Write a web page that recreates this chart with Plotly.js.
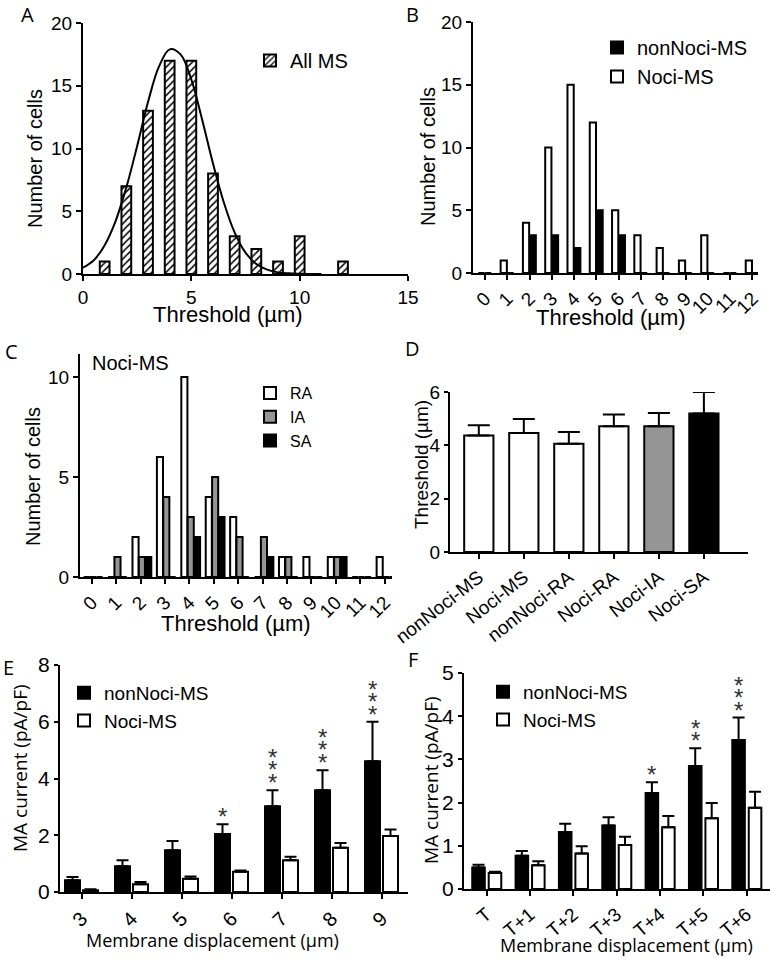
<!DOCTYPE html>
<html><head><meta charset="utf-8">
<script src="https://cdn.plot.ly/plotly-3.0.1.min.js"></script>
<style>html,body{margin:0;padding:0;background:#fff}#chart{width:771px;height:962px}</style>
</head><body><div id="chart"></div>
<script>
// ---------- Panel A: all MS neurons ----------
const thresholdBinsA = [1, 2, 3, 4, 5, 6, 7, 8, 9, 10, 12];
const allMsCounts = [1, 7, 13, 17, 17, 8, 3, 2, 1, 3, 1];
const fitCurveX = [0, 0.5, 1, 1.5, 2, 2.5, 3, 3.5, 4, 4.5, 5, 5.5, 6, 6.5, 7, 7.5, 8, 8.5, 9, 9.5, 10, 11];
const fitCurveY = [0.5, 1.1, 2.3, 4.2, 6.9, 10.2, 13.7, 16.5, 17.9, 17.5, 15.5, 12.3, 8.8, 5.7, 3.3, 1.7, 0.8, 0.35, 0.13, 0.05, 0.02, 0];
const tickValsA = [0, 5, 10, 15];
const tickValsCountA = [0, 5, 10, 15, 20];

// ---------- Panel B: nonNoci vs Noci ----------
const thresholdBinsB = [0, 1, 2, 3, 4, 5, 6, 7, 8, 9, 10, 11, 12];
const nonNociCountsB = [0, 0, 3, 3, 2, 5, 3, 0, 0, 0, 0, 0, 0];
const nociCountsB = [0, 1, 4, 10, 15, 12, 5, 3, 2, 1, 3, 0, 1];

// ---------- Panel C: Noci-MS by adaptation ----------
const thresholdBinsC = [0, 1, 2, 3, 4, 5, 6, 7, 8, 9, 10, 11, 12];
const raCounts = [0, 0, 2, 6, 10, 4, 3, 0, 1, 1, 1, 0, 1];
const iaCounts = [0, 1, 1, 4, 3, 5, 2, 2, 1, 0, 1, 0, 0];
const saCounts = [0, 0, 1, 0, 2, 3, 0, 1, 0, 0, 1, 0, 0];

// ---------- Panel D: mean threshold ----------
const groupsD = ['nonNoci-MS', 'Noci-MS', 'nonNoci-RA', 'Noci-RA', 'Noci-IA', 'Noci-SA'];
const thresholdMeansD = [4.37, 4.46, 4.06, 4.72, 4.72, 5.19];
const thresholdSemD = [0.38, 0.53, 0.44, 0.44, 0.49, 0.81];

// ---------- Panel E: MA current vs displacement ----------
const displacementE = ['3', '4', '5', '6', '7', '8', '9'];
const nonNociCurrentE = [0.41, 0.91, 1.47, 2.04, 3.02, 3.59, 4.61];
const nonNociSemE = [0.12, 0.21, 0.33, 0.35, 0.57, 0.70, 1.39];
const nociCurrentE = [0.06, 0.27, 0.47, 0.71, 1.12, 1.56, 1.97];
const nociSemE = [0.04, 0.08, 0.08, 0.05, 0.12, 0.17, 0.23];
const starsE = [0, 0, 0, 1, 3, 3, 3];

// ---------- Panel F: MA current vs threshold-relative displacement ----------
const displacementF = ['T', 'T+1', 'T+2', 'T+3', 'T+4', 'T+5', 'T+6'];
const nonNociCurrentF = [0.50, 0.77, 1.32, 1.47, 2.22, 2.85, 3.45];
const nonNociSemF = [0.06, 0.11, 0.19, 0.19, 0.25, 0.41, 0.52];
const nociCurrentF = [0.37, 0.55, 0.82, 1.02, 1.43, 1.64, 1.88];
const nociSemF = [0.03, 0.09, 0.17, 0.19, 0.26, 0.35, 0.37];
const starsF = [0, 0, 0, 0, 1, 2, 3];

// ---------- styling ----------
const W = 771, H = 962;
const px = v => v / W;
const py = v => 1 - v / H;
const ARIAL = 'Liberation Sans, Arial, sans-serif';
const OPEN = 'Open Sans, sans-serif';
const GRAY = '#959595';
const outline = {color: '#000', width: 2};

function axis(extra) {
  return Object.assign({
    showline: true, linecolor: '#000', linewidth: 2,
    ticks: 'outside', ticklen: 5, tickwidth: 2, tickcolor: '#000',
    showgrid: false, zeroline: false, fixedrange: true,
    tickfont: {family: ARIAL, size: 19, color: '#000'}
  }, extra);
}
function errUp(arr, w) {
  return {type: 'data', symmetric: false, array: arr, arrayminus: [], color: '#000', thickness: 2, width: w, visible: true};
}

const traces = [
  // A
  {type: 'bar', x: thresholdBinsA, y: allMsCounts, width: 0.45, xaxis: 'x', yaxis: 'y', name: 'All MS', legend: 'legend',
   marker: {color: '#fff', line: outline, pattern: {shape: '/', fgcolor: '#000', bgcolor: '#fff', size: 5, solidity: 0.3}}},
  {type: 'scatter', mode: 'lines', x: fitCurveX, y: fitCurveY, xaxis: 'x', yaxis: 'y', showlegend: false,
   line: {color: '#000', width: 2, shape: 'spline'}, hoverinfo: 'skip'},
  // B
  {type: 'bar', x: thresholdBinsB, y: nonNociCountsB, width: 0.28, offset: 0.0, xaxis: 'x2', yaxis: 'y2', name: 'nonNoci-MS', legend: 'legend2',
   marker: {color: '#000', line: outline}},
  {type: 'bar', x: thresholdBinsB, y: nociCountsB, width: 0.28, offset: -0.3, xaxis: 'x2', yaxis: 'y2', name: 'Noci-MS', legend: 'legend2',
   marker: {color: '#fff', line: outline}},
  // C
  {type: 'bar', x: thresholdBinsC, y: raCounts, width: 0.25, offset: -0.33, xaxis: 'x3', yaxis: 'y3', name: 'RA', legend: 'legend3',
   marker: {color: '#fff', line: outline}},
  {type: 'bar', x: thresholdBinsC, y: iaCounts, width: 0.25, offset: -0.07, xaxis: 'x3', yaxis: 'y3', name: 'IA', legend: 'legend3',
   marker: {color: GRAY, line: outline}},
  {type: 'bar', x: thresholdBinsC, y: saCounts, width: 0.25, offset: 0.19, xaxis: 'x3', yaxis: 'y3', name: 'SA', legend: 'legend3',
   marker: {color: '#000', line: outline}},
  // D
  {type: 'bar', x: groupsD, y: thresholdMeansD, width: 0.65, xaxis: 'x4', yaxis: 'y4', showlegend: false,
   marker: {color: ['#fff', '#fff', '#fff', '#fff', GRAY, '#000'], line: outline}, error_y: errUp(thresholdSemD, 11)},
  // E
  {type: 'bar', x: displacementE, y: nonNociCurrentE, width: 0.3, offset: -0.33, xaxis: 'x5', yaxis: 'y5', name: 'nonNoci-MS', legend: 'legend4',
   marker: {color: '#000', line: outline}, error_y: errUp(nonNociSemE, 6)},
  {type: 'bar', x: displacementE, y: nociCurrentE, width: 0.3, offset: 0.03, xaxis: 'x5', yaxis: 'y5', name: 'Noci-MS', legend: 'legend4',
   marker: {color: '#fff', line: outline}, error_y: errUp(nociSemE, 6)},
  // F
  {type: 'bar', x: displacementF, y: nonNociCurrentF, width: 0.29, offset: -0.33, xaxis: 'x6', yaxis: 'y6', name: 'nonNoci-MS', legend: 'legend5',
   marker: {color: '#000', line: outline}, error_y: errUp(nonNociSemF, 6)},
  {type: 'bar', x: displacementF, y: nociCurrentF, width: 0.29, offset: 0.05, xaxis: 'x6', yaxis: 'y6', name: 'Noci-MS', legend: 'legend5',
   marker: {color: '#fff', line: outline}, error_y: errUp(nociSemF, 6)}
];

function legendAt(x, y, size) {
  return {x: px(x), y: py(y), xanchor: 'left', yanchor: 'top', bgcolor: 'rgba(0,0,0,0)',
          font: {family: ARIAL, size: size, color: '#000'}, itemwidth: 30, tracegroupgap: 0, itemclick: false, itemdoubleclick: false};
}

const annotations = [];
function label(text, x, y, size, family, angle) {
  annotations.push({text: text, xref: 'paper', yref: 'paper', x: px(x), y: py(y), xanchor: 'center', yanchor: 'middle',
    showarrow: false, textangle: angle || 0, font: {family: family, size: size, color: '#000'}});
}
// panel letters
label('A', 27, 14, 20, OPEN); label('B', 412, 14, 20, OPEN); label('C', 11, 351, 20, OPEN);
label('D', 412, 348, 20, OPEN); label('E', 8, 667, 20, OPEN); label('F', 413, 659, 20, OPEN);
// axis titles
label('Number of cells', 35, 159, 20, ARIAL, -90);
label('Threshold (µm)', 228, 315, 22, ARIAL);
label('Number of cells', 428, 157, 20, ARIAL, -90);
label('Threshold (µm)', 611, 317, 22, ARIAL);
label('Number of cells', 33, 477, 20, ARIAL, -90);
label('Threshold (µm)', 236, 623, 22, ARIAL);
label('Threshold (µm)', 421, 464, 19, ARIAL, -90);
label('MA current (pA/pF)', 20, 768, 19, OPEN, -90);
label('Membrane displacement (µm)', 212, 940, 18, OPEN);
label('MA current (pA/pF)', 431, 780, 19, OPEN, -90);
label('Membrane displacement (µm)', 626, 945, 18, OPEN);
label('Noci-MS', 130, 363, 20, ARIAL);

// significance stars above nonNoci bars: one stacked text per bar (x given as category index)
function stars(vals, sems, counts, xr, yr, xshift) {
  counts.forEach((n, i) => {
    if (!n) return;
    const star = "<span style='font-size:24px'>*</span>";
    annotations.push({text: Array(n).fill(star).join('<br>'), x: i, y: vals[i] + sems[i], xref: xr, yref: yr,
      xanchor: 'center', yanchor: 'bottom', xshift: xshift, yshift: -8, showarrow: false,
      font: {family: ARIAL, size: 9.6, color: '#333'}});
  });
}
stars(nonNociCurrentE, nonNociSemE, starsE, 'x5', 'y5', -9);
stars(nonNociCurrentF, nonNociSemF, starsF, 'x6', 'y6', -8);

const layout = {
  width: W, height: H, margin: {l: 0, r: 0, t: 0, b: 0},
  paper_bgcolor: '#fff', plot_bgcolor: 'rgba(0,0,0,0)',
  barmode: 'overlay', showlegend: true, hovermode: false,
  font: {family: ARIAL, color: '#000'},
  xaxis: axis({domain: [px(83), px(408)], anchor: 'y', range: [0, 15], tickvals: tickValsA}),
  yaxis: axis({domain: [py(274), py(23)], anchor: 'x', range: [0, 20], tickvals: tickValsCountA}),
  xaxis2: axis({domain: [px(473), px(758)], anchor: 'y2', range: [-0.54, 12.25], tickvals: thresholdBinsB, tickangle: -45}),
  yaxis2: axis({domain: [py(273), py(22)], anchor: 'x2', range: [0, 20], tickvals: tickValsCountA}),
  xaxis3: axis({domain: [px(80), px(392)], anchor: 'y3', range: [-0.48, 12.3], tickvals: thresholdBinsC, tickangle: -45}),
  yaxis3: axis({domain: [py(577), py(354)], anchor: 'x3', range: [0, 11.15], tickvals: [0, 5, 10]}),
  xaxis4: axis({domain: [px(450), px(748)], anchor: 'y4', type: 'category', range: [-0.64, 5.98], tickangle: -38}),
  yaxis4: axis({domain: [py(552), py(392)], anchor: 'x4', range: [0, 6], tickvals: [0, 2, 4, 6], ticklen: 4}),
  xaxis5: axis({domain: [px(60), px(408)], anchor: 'y5', type: 'category', range: [-0.43, 6.53], tickangle: -45,
                tickfont: {family: ARIAL, size: 20, color: '#000'}}),
  yaxis5: axis({domain: [py(892), py(665)], anchor: 'x5', range: [0, 8], tickvals: [0, 2, 4, 6, 8], ticklen: 4,
                tickfont: {family: ARIAL, size: 21, color: '#000'}}),
  xaxis6: axis({domain: [px(464), px(770)], anchor: 'y6', type: 'category', range: [-0.52, 6.54], tickangle: -40,
                tickfont: {family: ARIAL, size: 19, color: '#000'}}),
  yaxis6: axis({domain: [py(889), py(673)], anchor: 'x6', range: [0, 5], tickvals: [0, 1, 2, 3, 4, 5], ticklen: 4,
                tickfont: {family: ARIAL, size: 21, color: '#000'}}),
  legend: legendAt(250, 41, 20),
  legend2: legendAt(597, 28, 20),
  legend3: legendAt(250, 376, 16),
  legend4: legendAt(64, 674, 19),
  legend5: legendAt(483, 673, 19),
  annotations: annotations
};

Plotly.newPlot('chart', traces, layout, {displayModeBar: false, staticPlot: true});
</script>
</body></html>
